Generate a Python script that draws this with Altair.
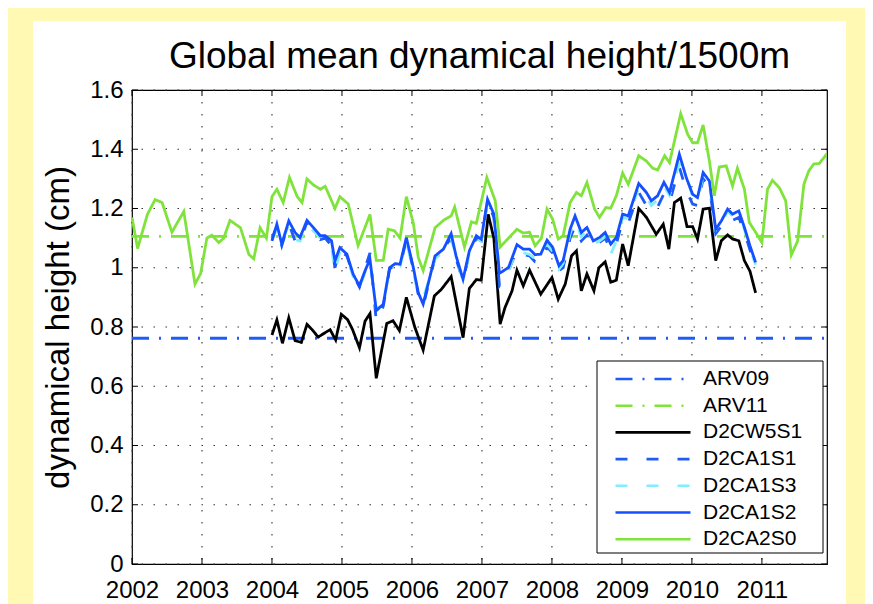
import altair as alt
import pandas as pd

TITLE = "Global mean dynamical height/1500m"
Y_TITLE = "dynamical height (cm)"

series_names = ["ARV09", "ARV11", "D2CW5S1", "D2CA1S1", "D2CA1S3", "D2CA1S2", "D2CA2S0"]
series_colors = ["#1F5CF5", "#80E33C", "#000000", "#1F5CF5", "#80EEFF", "#1450FF", "#80E33C"]
series_dashes = [[17, 10, 2, 10], [17, 10, 2, 10], [1, 0], [12, 19], [12, 19], [1, 0], [1, 0]]

x_ticks = [2002, 2003, 2004, 2005, 2006, 2007, 2008, 2009, 2010, 2011]
y_ticks = [0, 0.2, 0.4, 0.6, 0.8, 1.0, 1.2, 1.4, 1.6]
x_domain = [2002, 2011.93]
y_domain = [0, 1.6]

arv09_level = 0.762
arv11_level = 1.106

black_pts = [
    (2004.0, 0.773), (2004.07, 0.824), (2004.15, 0.745), (2004.24, 0.831), (2004.33, 0.754),
    (2004.42, 0.748), (2004.50, 0.809), (2004.57, 0.792), (2004.66, 0.766), (2004.76, 0.781),
    (2004.83, 0.791), (2004.91, 0.756), (2004.99, 0.843), (2005.08, 0.825), (2005.15, 0.792),
    (2005.25, 0.730), (2005.33, 0.820), (2005.40, 0.845), (2005.49, 0.627), (2005.64, 0.812),
    (2005.73, 0.821), (2005.82, 0.788), (2005.92, 0.900), (2006.04, 0.800), (2006.16, 0.722),
    (2006.32, 0.905), (2006.42, 0.927), (2006.56, 0.970), (2006.73, 0.764), (2006.82, 0.930),
    (2006.92, 0.960), (2006.99, 0.958), (2007.09, 1.180), (2007.17, 1.100), (2007.26, 0.810),
    (2007.33, 0.866), (2007.43, 0.922), (2007.50, 0.992), (2007.59, 0.939), (2007.68, 0.992),
    (2007.84, 0.911), (2008.00, 0.967), (2008.09, 0.894), (2008.19, 0.945), (2008.28, 1.040),
    (2008.35, 1.057), (2008.42, 0.922), (2008.50, 0.979), (2008.60, 0.922), (2008.67, 1.000),
    (2008.76, 1.020), (2008.84, 0.951), (2008.92, 0.958), (2009.01, 1.080), (2009.09, 1.007),
    (2009.24, 1.200), (2009.35, 1.170), (2009.49, 1.113), (2009.59, 1.147), (2009.67, 1.063),
    (2009.75, 1.220), (2009.84, 1.235), (2009.93, 1.139), (2010.01, 1.139), (2010.08, 1.097),
    (2010.16, 1.198), (2010.25, 1.201), (2010.34, 1.024), (2010.42, 1.091), (2010.51, 1.111),
    (2010.58, 1.097), (2010.67, 1.091), (2010.75, 1.024), (2010.83, 0.988), (2010.91, 0.915),
]

t_blue = [
    2004.00, 2004.07, 2004.14, 2004.24, 2004.33, 2004.40, 2004.50, 2004.59, 2004.69, 2004.76,
    2004.85, 2004.90, 2004.97, 2005.07, 2005.16, 2005.25, 2005.33, 2005.40, 2005.49, 2005.59,
    2005.68, 2005.76, 2005.83, 2005.92, 2006.02, 2006.09, 2006.16, 2006.33, 2006.45, 2006.56,
    2006.63, 2006.73, 2006.82, 2006.92, 2006.99, 2007.08, 2007.17, 2007.25, 2007.38, 2007.50,
    2007.59, 2007.68, 2007.76, 2007.84, 2007.93, 2008.01, 2008.10, 2008.16, 2008.26, 2008.33,
    2008.42, 2008.50, 2008.59, 2008.68, 2008.76, 2008.84, 2008.92, 2009.01, 2009.09, 2009.24,
    2009.35, 2009.42, 2009.51, 2009.60, 2009.68, 2009.82, 2009.92, 2010.01, 2010.08, 2010.16,
    2010.25, 2010.34, 2010.42, 2010.51, 2010.58, 2010.67, 2010.75, 2010.83, 2010.91,
]
v_ca1s2 = [
    1.091, 1.147, 1.080, 1.158, 1.119, 1.102, 1.160, 1.136, 1.108, 1.108,
    1.091, 1.023, 1.068, 1.046, 0.978, 0.939, 0.990, 1.029, 0.855, 0.877,
    1.000, 1.014, 1.012, 1.102, 1.000, 0.916, 0.877, 1.040, 1.063, 1.115,
    1.040, 0.961, 1.057, 1.108, 1.096, 1.231, 1.181, 0.981, 1.001, 1.078,
    1.063, 1.063, 1.044, 1.046, 1.093, 1.069, 1.007, 1.024, 1.130, 1.175,
    1.119, 1.136, 1.091, 1.102, 1.119, 1.080, 1.102, 1.181, 1.175, 1.284,
    1.254, 1.226, 1.243, 1.288, 1.254, 1.383, 1.304, 1.248, 1.237, 1.321,
    1.293, 1.130, 1.158, 1.198, 1.181, 1.192, 1.136, 1.074, 1.018,
]
v_ca1s1 = [
    1.100, 1.140, 1.075, 1.150, 1.090, 1.085, 1.155, 1.120, 1.095, 1.100,
    1.075, 1.000, 1.060, 1.040, 0.975, 0.935, 1.000, 1.050, 0.820, 0.870,
    0.995, 1.010, 1.005, 1.095, 0.995, 0.910, 0.870, 1.035, 1.065, 1.100,
    1.030, 0.955, 1.050, 1.100, 1.090, 1.225, 1.170, 0.940, 0.990, 1.060,
    1.045, 1.040, 1.020, 1.018, 1.070, 1.050, 0.990, 1.000, 1.100, 1.140,
    1.090, 1.110, 1.070, 1.085, 1.100, 1.060, 1.080, 1.160, 1.150, 1.255,
    1.210, 1.190, 1.205, 1.250, 1.220, 1.340, 1.260, 1.215, 1.210, 1.300,
    1.275, 1.115, 1.140, 1.170, 1.160, 1.170, 1.120, 1.060, 1.010,
]
v_ca1s3 = [
    1.095, 1.130, 1.085, 1.145, 1.095, 1.090, 1.150, 1.125, 1.100, 1.100,
    1.070, 0.985, 1.055, 1.035, 0.970, 0.930, 0.985, 1.020, 0.860, 0.880,
    0.990, 1.005, 1.005, 1.090, 0.990, 0.905, 0.895, 1.030, 1.055, 1.100,
    1.035, 0.955, 1.050, 1.100, 1.090, 1.220, 1.170, 0.985, 0.990, 1.065,
    1.050, 1.045, 1.030, 1.035, 1.080, 1.055, 0.995, 1.015, 1.115, 1.160,
    1.105, 1.120, 1.080, 1.090, 1.105, 1.045, 1.090, 1.170, 1.165, 1.270,
    1.240, 1.210, 1.230, 1.275, 1.245, 1.350, 1.310, 1.240, 1.225, 1.310,
    1.285, 1.120, 1.150, 1.190, 1.175, 1.180, 1.130, 1.065, 1.010,
]

green_pts = [
    (2002.00, 1.170), (2002.08, 1.065), (2002.22, 1.180), (2002.33, 1.230), (2002.43, 1.220),
    (2002.57, 1.120), (2002.74, 1.190), (2002.90, 0.945), (2002.98, 0.980), (2003.07, 1.100),
    (2003.14, 1.110), (2003.24, 1.085), (2003.31, 1.100), (2003.40, 1.160), (2003.55, 1.135),
    (2003.67, 1.045), (2003.74, 1.030), (2003.83, 1.135), (2003.92, 1.100), (2004.00, 1.240),
    (2004.07, 1.265), (2004.16, 1.220), (2004.25, 1.305), (2004.36, 1.240), (2004.43, 1.220),
    (2004.50, 1.300), (2004.59, 1.280), (2004.69, 1.265), (2004.76, 1.275), (2004.90, 1.200),
    (2004.97, 1.240), (2005.09, 1.215), (2005.23, 1.075), (2005.40, 1.180), (2005.49, 1.025),
    (2005.59, 1.025), (2005.66, 1.130), (2005.75, 1.125), (2005.83, 1.100), (2005.92, 1.240),
    (2006.02, 1.150), (2006.09, 1.035), (2006.16, 0.990), (2006.33, 1.135), (2006.45, 1.160),
    (2006.56, 1.175), (2006.61, 1.205), (2006.75, 1.070), (2006.85, 1.155), (2006.92, 1.150),
    (2007.07, 1.305), (2007.19, 1.226), (2007.26, 1.070), (2007.38, 1.100), (2007.50, 1.130),
    (2007.59, 1.117), (2007.68, 1.120), (2007.76, 1.074), (2007.85, 1.100), (2007.93, 1.198),
    (2008.01, 1.164), (2008.09, 1.097), (2008.16, 1.108), (2008.26, 1.220), (2008.35, 1.254),
    (2008.42, 1.243), (2008.50, 1.288), (2008.61, 1.198), (2008.68, 1.170), (2008.77, 1.203),
    (2008.84, 1.201), (2008.92, 1.243), (2009.01, 1.320), (2009.09, 1.282), (2009.24, 1.378),
    (2009.35, 1.360), (2009.44, 1.336), (2009.51, 1.330), (2009.61, 1.378), (2009.68, 1.355),
    (2009.84, 1.520), (2009.94, 1.450), (2010.01, 1.422), (2010.08, 1.422), (2010.16, 1.482),
    (2010.25, 1.360), (2010.32, 1.243), (2010.39, 1.340), (2010.49, 1.344), (2010.58, 1.276),
    (2010.65, 1.336), (2010.75, 1.265), (2010.82, 1.153), (2010.91, 1.120), (2011.00, 1.085),
    (2011.08, 1.265), (2011.15, 1.295), (2011.25, 1.270), (2011.34, 1.226), (2011.42, 1.043),
    (2011.51, 1.090), (2011.60, 1.282), (2011.67, 1.327), (2011.74, 1.350), (2011.82, 1.352),
    (2011.93, 1.385),
]

# ---- build long table (draw order = legend order) ----
rows = []
for t in x_domain:
    rows.append({"year": t, "value": arv09_level, "series": "ARV09"})
for t in x_domain:
    rows.append({"year": t, "value": arv11_level, "series": "ARV11"})
for t, v in black_pts:
    rows.append({"year": t, "value": v, "series": "D2CW5S1"})
for t, v in zip(t_blue, v_ca1s1):
    rows.append({"year": t, "value": v, "series": "D2CA1S1"})
for t, v in zip(t_blue, v_ca1s3):
    rows.append({"year": t, "value": v, "series": "D2CA1S3"})
for t, v in zip(t_blue, v_ca1s2):
    rows.append({"year": t, "value": v, "series": "D2CA1S2"})
for t, v in green_pts:
    rows.append({"year": t, "value": v, "series": "D2CA2S0"})
df = pd.DataFrame(rows)

xt = pd.DataFrame({"year": x_ticks})
yt = pd.DataFrame({"value": y_ticks})

W, H = 695, 474
PL, PT, PR, PB = 124, 82, 38, 42
FONT = "Liberation Sans"
YELLOW = "#FFF9B3"

x_scale = alt.Scale(domain=x_domain, nice=False, zero=False)
y_scale = alt.Scale(domain=y_domain, nice=False, zero=True)

x_axis = alt.Axis(values=x_ticks, format="d", labelFontSize=24, labelFont=FONT,
                  labelColor="black", ticks=False, domain=False, grid=False,
                  labelPadding=14, labelFlush=False, labelOverlap=False, zindex=2)
y_axis = alt.Axis(values=y_ticks, format=".1~f", labelFontSize=24, labelFont=FONT,
                  labelColor="black", ticks=False, domain=False, grid=False,
                  labelPadding=9, labelFlush=False, labelOverlap=False,
                  titleFontSize=33, titleFont=FONT, titleFontWeight="normal",
                  titleColor="black", titlePadding=14, zindex=2)

one = pd.DataFrame({"k": [0]})
# yellow frame strips around the white figure panel (decorative)
strip_left = alt.Chart(one).mark_rect(color=YELLOW).encode(
    x=alt.value(-PL), x2=alt.value(-99), y=alt.value(-PT), y2=alt.value(H + PB))
strip_top = alt.Chart(one).mark_rect(color=YELLOW).encode(
    x=alt.value(-PL), x2=alt.value(W + PR), y=alt.value(-PT), y2=alt.value(-69))
strip_right = alt.Chart(one).mark_rect(color=YELLOW).encode(
    x=alt.value(714), x2=alt.value(W + PR), y=alt.value(-PT), y2=alt.value(H + PB))

# legend box (decorative frame behind the legend entries)
legend_box = alt.Chart(one).mark_rect(fill="white", stroke="black", strokeWidth=1).encode(
    x=alt.value(465), x2=alt.value(691), y=alt.value(271), y2=alt.value(463))

title_mark = alt.Chart(one).mark_text(
    text=TITLE, font=FONT, fontSize=37, color="black", align="center", baseline="alphabetic"
).encode(x=alt.value(W / 2), y=alt.value(-22))

grid_style = dict(color="#333333", strokeWidth=1.1, strokeDash=[1.5, 10.5])
xgrid = alt.Chart(xt).mark_rule(**grid_style).encode(
    x=alt.X("year:Q", scale=x_scale, title=None, axis=x_axis)
)
ygrid = alt.Chart(yt).mark_rule(**grid_style).encode(
    y=alt.Y("value:Q", scale=y_scale, title=Y_TITLE, axis=y_axis)
)

legend = alt.Legend(
    orient="none", legendX=465, legendY=270,
    fillColor="transparent", strokeColor="transparent", padding=5,
    labelFontSize=21, labelFont=FONT, labelColor="black",
    symbolType="M-1,0H5", symbolSize=625, symbolStrokeWidth=2.6,
    symbolOffset=12, labelOffset=61, rowPadding=2.7, labelLimit=300,
)

lines = alt.Chart(df).mark_line(strokeWidth=2.8, clip=True).encode(
    x=alt.X("year:Q", scale=x_scale, title=None, axis=x_axis),
    y=alt.Y("value:Q", scale=y_scale, title=Y_TITLE, axis=y_axis),
    color=alt.Color("series:N", title=None,
                    scale=alt.Scale(domain=series_names, range=series_colors),
                    legend=legend),
    strokeDash=alt.StrokeDash("series:N", title=None,
                              scale=alt.Scale(domain=series_names, range=series_dashes),
                              legend=legend),
)

TL = 6
tick_style = dict(color="black", strokeWidth=1)
tb = alt.Chart(xt).mark_rule(**tick_style).encode(
    x=alt.X("year:Q", scale=x_scale, title=None, axis=x_axis), y=alt.value(H), y2=alt.value(H - TL))
tt = alt.Chart(xt).mark_rule(**tick_style).encode(
    x=alt.X("year:Q", scale=x_scale, title=None, axis=x_axis), y=alt.value(0), y2=alt.value(TL))
tlft = alt.Chart(yt).mark_rule(**tick_style).encode(
    y=alt.Y("value:Q", scale=y_scale, title=Y_TITLE, axis=y_axis), x=alt.value(0), x2=alt.value(TL))
trgt = alt.Chart(yt).mark_rule(**tick_style).encode(
    y=alt.Y("value:Q", scale=y_scale, title=Y_TITLE, axis=y_axis), x=alt.value(W), x2=alt.value(W - TL))

chart = alt.layer(
    xgrid, ygrid, lines, tb, tt, tlft, trgt, legend_box,
    strip_left, strip_top, strip_right, title_mark,
).properties(
    width=W, height=H,
    autosize=alt.AutoSizeParams(type="none"),
    padding={"left": PL, "top": PT, "right": PR, "bottom": PB},
    background="white",
).configure_view(stroke="black", strokeWidth=1.2)

chart.save("out.html", embed_options={"renderer": "svg", "actions": False})
